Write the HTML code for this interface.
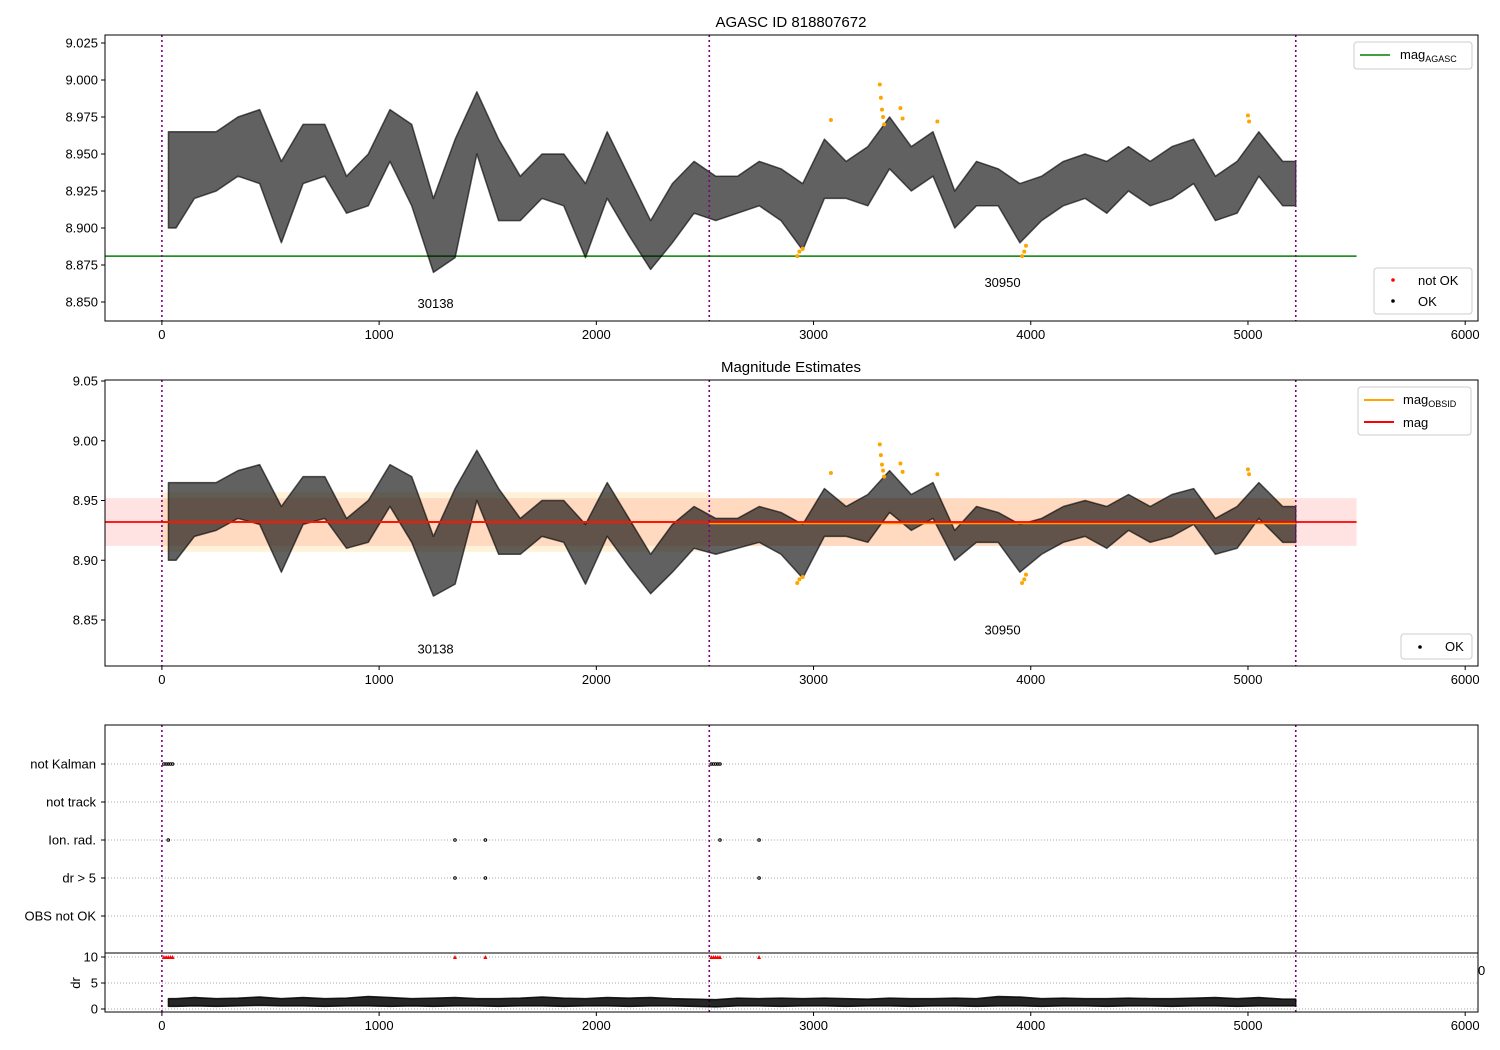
<!DOCTYPE html>
<html><head><meta charset="utf-8">
<style>
html,body{margin:0;padding:0;background:#fff;}
svg{display:block;font-family:"Liberation Sans","DejaVu Sans",sans-serif;}
text{font-size:13px;fill:#000;}
</style></head>
<body>
<svg id="chart" width="1500" height="1050" viewBox="0 0 1500 1050" xmlns="http://www.w3.org/2000/svg">
<rect x="0" y="0" width="1500" height="1050" fill="#fff"/>
</svg>
<script>
// ---- data ----
const binStart = [0,100,200,300,400,500,600,700,800,900,1000,1100,1200,1300,1400,1500,1600,1700,1800,1900,2000,2100,2200,2300,2400,2500,2600,2700,2800,2900,3000,3100,3200,3300,3400,3500,3600,3700,3800,3900,4000,4100,4200,4300,4400,4500,4600,4700,4800,4900,5000,5100];
const magLo = [8.900,8.920,8.925,8.935,8.930,8.890,8.930,8.935,8.910,8.915,8.945,8.915,8.870,8.880,8.950,8.905,8.905,8.920,8.915,8.880,8.920,8.895,8.872,8.890,8.910,8.905,8.910,8.915,8.905,8.885,8.920,8.920,8.915,8.940,8.925,8.935,8.900,8.915,8.915,8.890,8.905,8.915,8.920,8.910,8.925,8.915,8.920,8.930,8.905,8.910,8.935,8.915];
const magHi = [8.965,8.965,8.965,8.975,8.980,8.945,8.970,8.970,8.935,8.950,8.980,8.970,8.920,8.960,8.992,8.960,8.935,8.950,8.950,8.930,8.965,8.935,8.905,8.930,8.945,8.935,8.935,8.945,8.940,8.930,8.960,8.945,8.955,8.975,8.955,8.965,8.925,8.945,8.940,8.930,8.935,8.945,8.950,8.945,8.955,8.945,8.955,8.960,8.935,8.945,8.965,8.945];
const binEnd = 5220;
const outT = [2925,2935,2950,3080,3305,3310,3315,3320,3325,3400,3410,3570,3960,3970,3978,5000,5005];
const outMag = [8.881,8.884,8.886,8.973,8.997,8.988,8.980,8.975,8.970,8.981,8.974,8.972,8.881,8.884,8.888,8.976,8.972];
const obsStart = [0,2520,5220];
const obsIds = ["30138","30950"];
const obsMag = [8.932,8.931];
const obsLo = [8.907,8.912];
const obsHi = [8.957,8.952];
const agascMag = 8.881;
const magMean = 8.932, magMeanLo = 8.912, magMeanHi = 8.952;
const flagCats = ["not Kalman","not track","Ion. rad.","dr > 5","OBS not OK"];
const flagT = [0,10,20,30,40,2520,2530,2540,2550,2560,20,1340,1480,2560,2740,1340,1480,2740];
const flagIdx = [0,0,0,0,0,0,0,0,0,0,2,2,2,2,2,3,3,3];
const drBinLo = [0.5,0.6,0.5,0.6,0.7,0.6,0.6,0.5,0.6,0.6,0.5,0.6,0.5,0.6,0.6,0.5,0.6,0.6,0.5,0.6,0.6,0.5,0.6,0.6,0.5,0.4,0.6,0.6,0.5,0.6,0.6,0.5,0.6,0.6,0.5,0.6,0.6,0.5,0.6,0.6,0.5,0.6,0.6,0.5,0.6,0.6,0.5,0.6,0.6,0.5,0.6,0.6];
const drBinHi = [2.0,2.2,2.0,2.1,2.3,2.0,2.2,2.0,2.1,2.4,2.2,2.0,2.1,2.2,2.0,2.0,2.1,2.3,2.1,2.0,2.2,2.1,2.2,2.0,1.9,1.8,2.1,2.0,2.1,2.0,2.1,2.0,1.9,2.1,2.0,2.0,2.1,2.0,2.4,2.3,2.0,2.1,2.0,2.0,2.1,2.0,2.0,2.1,2.2,2.0,2.2,1.9];
const redT = [0,10,20,30,40,1340,1480,2520,2530,2540,2550,2560,2740];
const xTicks = [0,1000,2000,3000,4000,5000,6000];
const y1Ticks = [8.850,8.875,8.900,8.925,8.950,8.975,9.000,9.025];
const y2Ticks = [8.85,8.90,8.95,9.00,9.05];
const drTicks = [0,5,10];

// ---- helpers ----
const svg = document.getElementById('chart');
const NS = 'http://www.w3.org/2000/svg';
function mk(tag, attrs, parent){const e=document.createElementNS(NS,tag);for(const k in attrs)e.setAttribute(k,attrs[k]);(parent||svg).appendChild(e);return e;}
const X0=105,X1=1478,T0=-262,T1=6059;
function xs(t){return X0+(t-T0)/(T1-T0)*(X1-X0);}
function ys1(m){return 43+(9.025-m)*1480;}
function ys2(m){return 381+(9.05-m)*(59.75/0.05);}
function ysF(i){return 764+i*38;}
function ysD(d){return 1009-d*5.2;}

function frame(y0,y1,name){
  const r=mk('rect',{x:X0,y:y0,width:X1-X0,height:y1-y0,fill:'none',stroke:'#000','stroke-width':1});
  
  
}
function xAxis(yb,name){
  const g=mk('g',{});
  
  
  xTicks.forEach(t=>{
    const x=xs(t);
    mk('line',{x1:x,x2:x,y1:yb,y2:yb+4,stroke:'#000'},g);
    const tx=mk('text',{x:x,y:yb+18,'text-anchor':'middle'},g);tx.textContent=t;
  });
}
function yAxis(ticks,fn,fmt,name){
  const g=mk('g',{});
  
  
  ticks.forEach(v=>{
    const y=fn(v);
    mk('line',{x1:X0-4,x2:X0,y1:y,y2:y,stroke:'#000'},g);
    const tx=mk('text',{x:X0-7,y:y+4.5,'text-anchor':'end'},g);tx.textContent=fmt(v);
  });
}
function vlines(y0,y1){
  obsStart.forEach(t=>{
    const l=mk('line',{x1:xs(t),x2:xs(t),y1:y0,y2:y1,stroke:'#800080','stroke-width':1.6,'stroke-dasharray':'2,3'});
    
    
  });
}
function bandPoly(lo,hi,fn,name,op){
  const up=[],dn=[];
  binStart.forEach((t,i)=>{
    const te=(i+1<binStart.length)?binStart[i+1]:binEnd;
    const ta=(i===0)?30:t;
    const tm=(ta+te)/2;
    if(i===0){up.push(xs(ta)+','+fn(hi[i]));dn.push(xs(ta)+','+fn(lo[i]));}
    up.push(xs(tm)+','+fn(hi[i]));dn.push(xs(tm)+','+fn(lo[i]));
    if(i===binStart.length-1){up.push(xs(te)+','+fn(hi[i]));dn.push(xs(te)+','+fn(lo[i]));}
  });
  const p=mk('polygon',{points:up.concat(dn.reverse()).join(' '),fill:'#000','fill-opacity':op,stroke:'#000','stroke-width':1.5,'stroke-linejoin':'round','stroke-opacity':op});
  
  
}
function outliers(fn){
  outT.forEach((t,i)=>{
    const c=mk('circle',{cx:xs(t),cy:fn(outMag[i]),r:2,fill:'orange'});
    
    
  });
}
function label(x,y,s,name,anchor,size){
  const t=mk('text',{x:x,y:y,'text-anchor':anchor||'middle'});
  if(size)t.setAttribute('style','font-size:'+size+'px');
  t.textContent=s;
  
  
  return t;
}
function obsLabels(fn,mags){
  obsIds.forEach((id,i)=>{
    label(xs((obsStart[i]+obsStart[i+1])/2),fn(mags[i]),id,'obsid-label');
  });
}

// ---- panel 1 ----
label(791,27,'AGASC ID 818807672','title-agasc',null,15);
const ag=mk('line',{x1:X0,x2:xs(5500),y1:ys1(agascMag),y2:ys1(agascMag),stroke:'green','stroke-width':1.6});


bandPoly(magLo,magHi,ys1,'mag-scatter-top',0.62);
outliers(ys1);
obsLabels(ys1,[8.846,8.860]);
vlines(35,321);
frame(35,321,'top-axes');
xAxis(321,'top-x-axis');
yAxis(y1Ticks,ys1,v=>v.toFixed(3),'top-y-axis');
let lg=mk('g',{});


mk('rect',{x:1354,y:42,width:118,height:27,rx:3,fill:'#fff',stroke:'#ccc'},lg);
mk('line',{x1:1360,x2:1390,y1:55,y2:55,stroke:'green','stroke-width':1.6},lg);
let lt=mk('text',{x:1400,y:59},lg);lt.innerHTML='mag<tspan style="font-size:9px" dy="3">AGASC</tspan>';
lg=mk('g',{});


mk('rect',{x:1374,y:268,width:98,height:46,rx:3,fill:'#fff',stroke:'#ccc'},lg);
mk('circle',{cx:1393,cy:280,r:1.8,fill:'red'},lg);
mk('circle',{cx:1393,cy:301,r:1.8,fill:'#000'},lg);
lt=mk('text',{x:1418,y:285},lg);lt.textContent='not OK';
lt=mk('text',{x:1418,y:306},lg);lt.textContent='OK';

// ---- panel 2 ----
label(791,372,'Magnitude Estimates','title-magnitude',null,15);
const band=mk('rect',{x:X0,y:ys2(magMeanHi),width:xs(5500)-X0,height:ys2(magMeanLo)-ys2(magMeanHi),fill:'red','fill-opacity':0.11});


obsIds.forEach((id,i)=>{
  const r=mk('rect',{x:xs(obsStart[i]),y:ys2(obsHi[i]),width:xs(obsStart[i+1])-xs(obsStart[i]),height:ys2(obsLo[i])-ys2(obsHi[i]),fill:'orange','fill-opacity':0.15});
  
  
});
bandPoly(magLo,magHi,ys2,'mag-scatter-mid',0.62);
outliers(ys2);
obsIds.forEach((id,i)=>{
  const l=mk('line',{x1:xs(obsStart[i]),x2:xs(obsStart[i+1]),y1:ys2(obsMag[i]),y2:ys2(obsMag[i]),stroke:'orange','stroke-width':2});
  
  
});
const ml=mk('line',{x1:X0,x2:xs(5500),y1:ys2(magMean),y2:ys2(magMean),stroke:'red','stroke-width':1.8});


obsLabels(ys2,[8.822,8.838]);
vlines(380,666);
frame(380,666,'middle-axes');
xAxis(666,'middle-x-axis');
yAxis(y2Ticks,ys2,v=>v.toFixed(2),'middle-y-axis');
lg=mk('g',{});


mk('rect',{x:1358,y:387,width:113,height:48,rx:3,fill:'#fff',stroke:'#ccc'},lg);
mk('line',{x1:1364,x2:1394,y1:400,y2:400,stroke:'orange','stroke-width':2},lg);
mk('line',{x1:1364,x2:1394,y1:422,y2:422,stroke:'red','stroke-width':2},lg);
lt=mk('text',{x:1403,y:404},lg);lt.innerHTML='mag<tspan style="font-size:9px" dy="3">OBSID</tspan>';
lt=mk('text',{x:1403,y:427},lg);lt.textContent='mag';
lg=mk('g',{});


mk('rect',{x:1401,y:634,width:71,height:25,rx:3,fill:'#fff',stroke:'#ccc'},lg);
mk('circle',{cx:1420,cy:647,r:1.8,fill:'#000'},lg);
lt=mk('text',{x:1445,y:651},lg);lt.textContent='OK';

// ---- panel 3 flags ----
flagCats.forEach((c,i)=>{
  const y=ysF(i);
  const g=mk('line',{x1:X0,x2:X1,y1:y,y2:y,stroke:'#aaa','stroke-dasharray':'1,2'});
  
  
  mk('line',{x1:X0-4,x2:X0,y1:y,y2:y,stroke:'#000'});
  label(96,y+4.5,c,'flag-label','end');
});
flagT.forEach((t,i)=>{
  const c=mk('circle',{cx:xs(t)+2,cy:ysF(flagIdx[i]),r:1.3,fill:'none',stroke:'#000','stroke-width':1});
  
  
});
vlines(725,1012);
frame(725,953,'flags-axes');
drTicks.forEach(d=>{
  const g=mk('line',{x1:X0,x2:X1,y1:ysD(d),y2:ysD(d),stroke:'#aaa','stroke-dasharray':'1,2'});
  
  
});
bandPoly(drBinLo,drBinHi,ysD,'dr-series',0.85);
redT.forEach(t=>{
  const x=xs(t)+2,y=ysD(10);
  const p=mk('polygon',{points:(x-2)+','+(y+2)+' '+(x+2)+','+(y+2)+' '+x+','+(y-2),fill:'red'});
  
  
});
frame(953,1012,'dr-axes');
xAxis(1012,'bottom-x-axis');
yAxis(drTicks,ysD,v=>v,'dr-y-axis');
const dl=mk('text',{x:80,y:983,'text-anchor':'middle',transform:'rotate(-90 80 983)'});
dl.textContent='dr';


label(1478,975,'0','stray-tick','start');
</script>
</body></html>
